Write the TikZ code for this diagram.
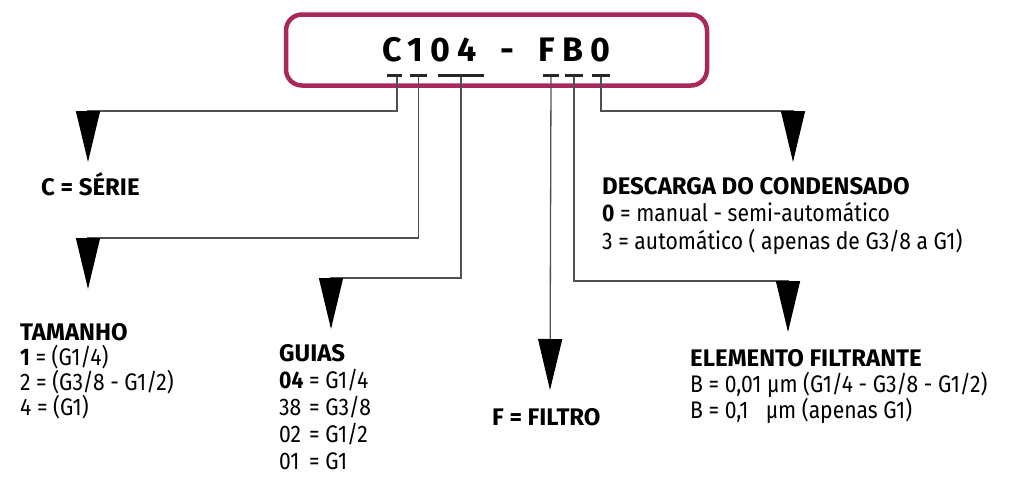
\documentclass[tikz,border=0pt]{standalone}
\usepackage{fontspec}
\setmainfont{Fira Sans}[FakeStretch=0.88]
\newfontfamily\headfont{Fira Sans}
\newfontfamily\codefont{Fira Sans}[LetterSpace=21,WordSpace=1.6]
\usetikzlibrary{arrows.meta}
\definecolor{framered}{HTML}{A8285A}
\definecolor{linegray}{HTML}{505050}

\begin{document}
\begin{tikzpicture}[x=1pt,y=-1pt,>={Triangle[length=51pt,width=24pt,color=black]},
frame/.style={draw=framered,line width=4.5pt,rounded corners=16pt,minimum width=421pt,minimum height=71pt,inner sep=0pt,font=\codefont\bfseries\fontsize{34}{34}\selectfont},
bar/.style={fill=black!85,inner sep=0pt,minimum height=3pt},
conn/.style={draw=linegray,line width=1.3pt,->},
head/.style={inner sep=0pt,anchor=base west,font=\headfont\bfseries\fontsize{24}{24}\selectfont},
block/.style={align=left,inner sep=0pt,anchor=base west}]
\useasboundingbox (0,0) rectangle (1017,477);
% code box
\node[frame] (code) at (496.5,50) {C104 - FB0};
\node[bar,minimum width=15pt] (uC) at (394.5,75) {};
\node[bar,minimum width=17pt] (u1) at (418.5,75) {};
\node[bar,minimum width=46pt] (u04) at (461,75) {};
\node[bar,minimum width=16pt] (uF) at (551,75) {};
\node[bar,minimum width=18pt] (uB) at (574,75) {};
\node[bar,minimum width=18pt] (u0) at (601,75) {};
% arrow tips
\coordinate (tC) at (88,162);
\coordinate (tT) at (88,289);
\coordinate (tG) at (331,329);
\coordinate (tF) at (550,390);
\coordinate (tE) at (788,332);
\coordinate (tD) at (793,162);
% texts (anchored at the last baseline)
\node[head] (serie) at (41,195) {C = SÉRIE};
\node[block,font=\fontsize{24}{25}\selectfont] (tam) at (20,415)
  {{\headfont\bfseries TAMANHO}\\\textbf{1} = (G1/4)\\2 = (G3/8 - G1/2)\\4 = (G1)};
\node[block,font=\fontsize{24}{27}\selectfont] (guias) at (279,469)
  {{\headfont\bfseries GUIAS}\\\makebox[30pt][l]{\textbf{04}}= G1/4\\\makebox[30pt][l]{38}= G3/8\\\makebox[30pt][l]{02}= G1/2\\\makebox[30pt][l]{01}= G1};
\node[head] (filtro) at (492,425) {F = FILTRO};
\node[block,font=\fontsize{24}{26}\selectfont] (elem) at (690,418)
  {{\headfont\bfseries ELEMENTO FILTRANTE}\\B = 0,01 µm (G1/4 - G3/8 - G1/2)\\B = 0,1\phantom{0} µm (apenas G1)};
\node[block,font=\fontsize{24}{27.5}\selectfont] (desc) at (602,249)
  {{\headfont\bfseries DESCARGA DO CONDENSADO}\\\textbf{0} = manual - semi-automático\\3 = automático ( apenas de G3/8 a G1)};
% connectors
\draw[conn] ([xshift=2.5pt]uC.south) |- ([yshift=51pt]tC) -- (tC);
\draw[conn] (u1.south) |- ([yshift=51pt]tT) -- (tT);
\draw[conn] (u04.south) |- ([yshift=51pt]tG) -- (tG);
\draw[conn] (uF.south) -- (tF);
\draw[conn] (uB.south) |- ([yshift=51pt]tE) -- (tE);
\draw[conn] (u0.south) |- ([yshift=51pt]tD) -- (tD);
\end{tikzpicture}
\end{document}
